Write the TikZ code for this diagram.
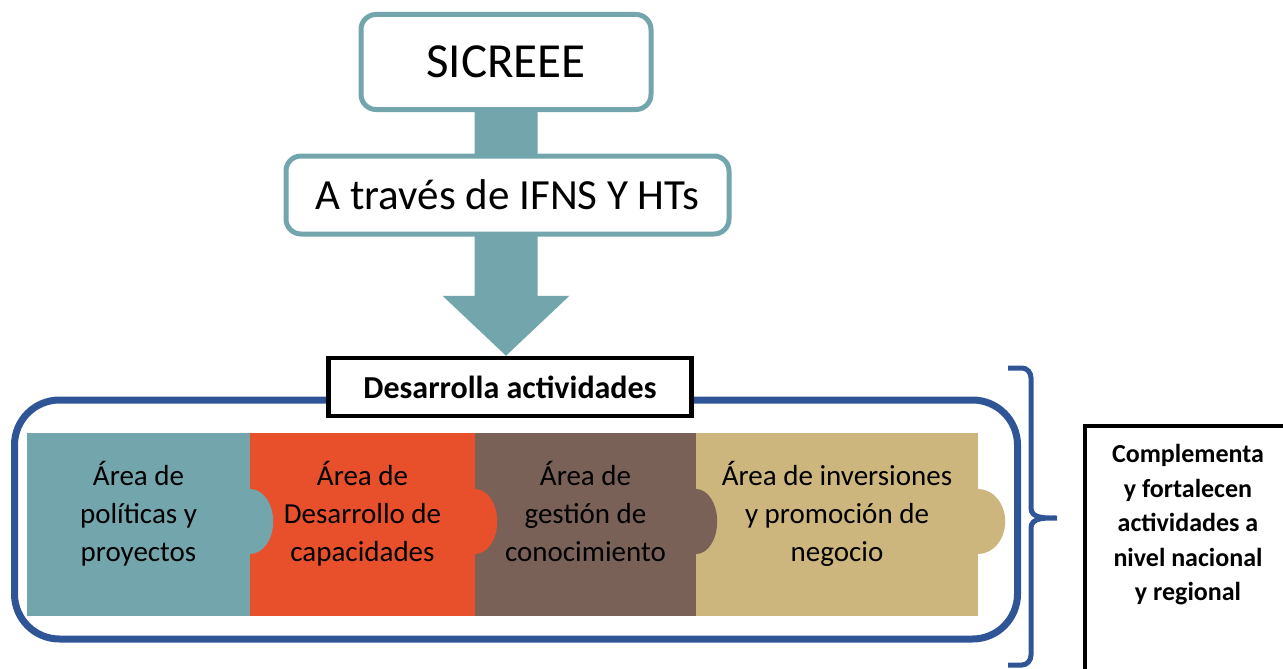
\documentclass[tikz,border=0pt]{standalone}
\usepackage{fontspec}
\setmainfont{Carlito}
\usepackage{xcolor}
\usepackage{tikz}
\usetikzlibrary{backgrounds}

\definecolor{tealc}{RGB}{114,166,172}
\definecolor{orangec}{RGB}{232,80,44}
\definecolor{brownc}{RGB}{122,97,88}
\definecolor{tanc}{RGB}{204,182,126}
\definecolor{bluec}{RGB}{47,85,151}

\tikzset{
  tealbox/.style={draw=tealc, line width=5pt, rounded corners=15pt, fill=white, align=center},
  blackbox/.style={draw=black, line width=4.5pt, fill=white, align=center},
  piece/.style={inner sep=0pt, minimum height=183pt},
  piecetext/.style={align=center, anchor=north, font=\fontsize{29}{38}\selectfont},
}

\begin{document}
\begin{tikzpicture}[x=1pt, y=-1pt]
  \useasboundingbox (0,0) rectangle (1283,669);
  \clip (0,0) rectangle (1283,669);

  % outer frame
  \node (panel) at (516,519.5) [draw=bluec, line width=7pt, rounded corners=45pt,
    minimum width=1003pt, minimum height=239pt] {};

  % puzzle
  \node (p1) at (138.5,524) [piece, fill=tealc, minimum width=223pt] {};
  \node (p2) at (362.5,524) [piece, fill=orangec, minimum width=225pt] {};
  \node (p3) at (585.5,524) [piece, fill=brownc, minimum width=221pt] {};
  \node (p4) at (837,524) [piece, fill=tanc, minimum width=282pt] {};
  \fill[tealc] ([yshift=35pt]p1.east) arc[start angle=90, end angle=-90, x radius=23pt, y radius=32.5pt] -- cycle;
  \fill[orangec] ([yshift=35pt]p2.east) arc[start angle=90, end angle=-90, x radius=22pt, y radius=32.5pt] -- cycle;
  \fill[brownc] ([yshift=35pt]p3.east) arc[start angle=90, end angle=-90, x radius=21pt, y radius=32.5pt] -- cycle;
  \fill[tanc] ([yshift=35pt]p4.east) arc[start angle=90, end angle=-90, x radius=27pt, y radius=32.5pt] -- cycle;
  \node (t1) at ([yshift=-25pt]p1.north) [piecetext] {Área de\\políticas y\\proyectos};
  \node (t2) at ([yshift=-25pt]p2.north) [piecetext] {Área de\\Desarrollo de\\capacidades};
  \node (t3) at ([yshift=-25pt]p3.north) [piecetext] {Área de\\gestión de\\conocimiento};
  \node (t4) at ([yshift=-25pt]p4.north) [piecetext] {Área de inversiones\\y promoción de\\negocio};

  % top boxes
  \node (sicreee) at (506,62) [tealbox, minimum width=290pt, minimum height=95pt,
    font=\fontsize{49}{52}\selectfont] {SICREEE};
  \node (ifns) at (507.5,195) [tealbox, minimum width=443pt, minimum height=78pt,
    font=\fontsize{43}{46}\selectfont] {A través de IFNS Y HTs};
  \node (desarrolla) at (510,387) [blackbox, minimum width=363pt, minimum height=58pt,
    font=\bfseries\fontsize{32}{36}\selectfont] {Desarrolla actividades};
  \coordinate (tip) at (sicreee.south |- desarrolla.north);
  \begin{scope}[on background layer]
    \fill[tealc] ([xshift=-31.5pt]sicreee.south) -- ([xshift=-31.5pt,yshift=60pt]tip)
      -- ([xshift=-63.5pt,yshift=60pt]tip) -- (tip)
      -- ([xshift=63.5pt,yshift=60pt]tip) -- ([xshift=31.5pt,yshift=60pt]tip)
      -- ([xshift=31.5pt]sicreee.south) -- cycle;
  \end{scope}

  % brace
  \draw[bluec, line width=5pt] (1008,368) -- (1022,368) to[out=0,in=90] (1031,378) -- (1031,508)
    to[out=-90,in=180] (1057,518) to[out=180,in=90] (1031,528) -- (1031,655)
    to[out=-90,in=0] (1022,665) -- (1008,665);

  % right box
  \node (complementa) at (1188,553) [blackbox, minimum width=206pt, minimum height=254pt] {};
  \node (ctext) at (1188,525) [align=center, font=\bfseries\fontsize{26}{34.5}\selectfont]
    {Complementa\\y fortalecen\\actividades a\\nivel nacional\\y regional};
\end{tikzpicture}
\end{document}
